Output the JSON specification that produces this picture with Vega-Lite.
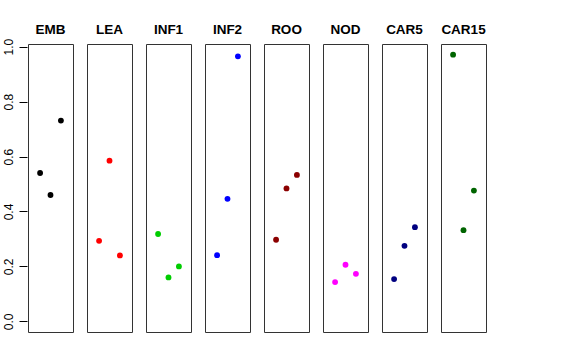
{
  "$schema": "https://vega.github.io/schema/vega-lite/v6.json",
  "background": "white",
  "padding": {"left": 1, "top": 22, "right": 5, "bottom": 5},
  "data": {"values": [
    {"g": "EMB", "x": 1, "y": 0.540}, {"g": "EMB", "x": 2, "y": 0.460}, {"g": "EMB", "x": 3, "y": 0.731},
    {"g": "LEA", "x": 1, "y": 0.293}, {"g": "LEA", "x": 2, "y": 0.585}, {"g": "LEA", "x": 3, "y": 0.240},
    {"g": "INF1", "x": 1, "y": 0.318}, {"g": "INF1", "x": 2, "y": 0.160}, {"g": "INF1", "x": 3, "y": 0.200},
    {"g": "INF2", "x": 1, "y": 0.241}, {"g": "INF2", "x": 2, "y": 0.446}, {"g": "INF2", "x": 3, "y": 0.965},
    {"g": "ROO", "x": 1, "y": 0.297}, {"g": "ROO", "x": 2, "y": 0.484}, {"g": "ROO", "x": 3, "y": 0.533},
    {"g": "NOD", "x": 1, "y": 0.143}, {"g": "NOD", "x": 2, "y": 0.206}, {"g": "NOD", "x": 3, "y": 0.173},
    {"g": "CAR5", "x": 1, "y": 0.154}, {"g": "CAR5", "x": 2, "y": 0.275}, {"g": "CAR5", "x": 3, "y": 0.343},
    {"g": "CAR15", "x": 1, "y": 0.971}, {"g": "CAR15", "x": 2, "y": 0.332}, {"g": "CAR15", "x": 3, "y": 0.476}
  ]},
  "facet": {
    "column": {
      "field": "g",
      "type": "nominal",
      "sort": ["EMB", "LEA", "INF1", "INF2", "ROO", "NOD", "CAR5", "CAR15"],
      "header": {
        "title": null,
        "labelFont": "Liberation Sans",
        "labelFontSize": 13.5,
        "labelFontWeight": "bold",
        "labelColor": "black",
        "labelPadding": 7
      }
    }
  },
  "spacing": 12,
  "spec": {
    "width": 45,
    "height": 288,
    "mark": {"type": "point", "filled": true, "opacity": 1, "size": 34},
    "encoding": {
      "x": {"field": "x", "type": "quantitative", "scale": {"domain": [-0.16, 4.16], "nice": false, "zero": false}, "axis": null},
      "y": {"field": "y", "type": "quantitative",
        "scale": {"domain": [-0.0388, 1.0098], "nice": false, "zero": false},
        "axis": {"title": null, "values": [0, 0.2, 0.4, 0.6, 0.8, 1.0], "format": ".1f", "grid": false,
          "domain": false, "tickColor": "black", "tickSize": 8, "labelAngle": 270, "labelAlign": "center",
          "labelBaseline": "bottom", "labelPadding": 4, "labelFont": "Liberation Sans", "labelFontSize": 12, "labelColor": "black"}},
      "color": {"field": "g", "type": "nominal",
        "scale": {"domain": ["EMB", "LEA", "INF1", "INF2", "ROO", "NOD", "CAR5", "CAR15"],
          "range": ["#000000", "#FF0000", "#00CD00", "#0000FF", "#8B0000", "#FF00FF", "#000080", "#006400"]},
        "legend": null}
    }
  },
  "config": {"view": {"stroke": "#333333", "strokeWidth": 1}}
}
